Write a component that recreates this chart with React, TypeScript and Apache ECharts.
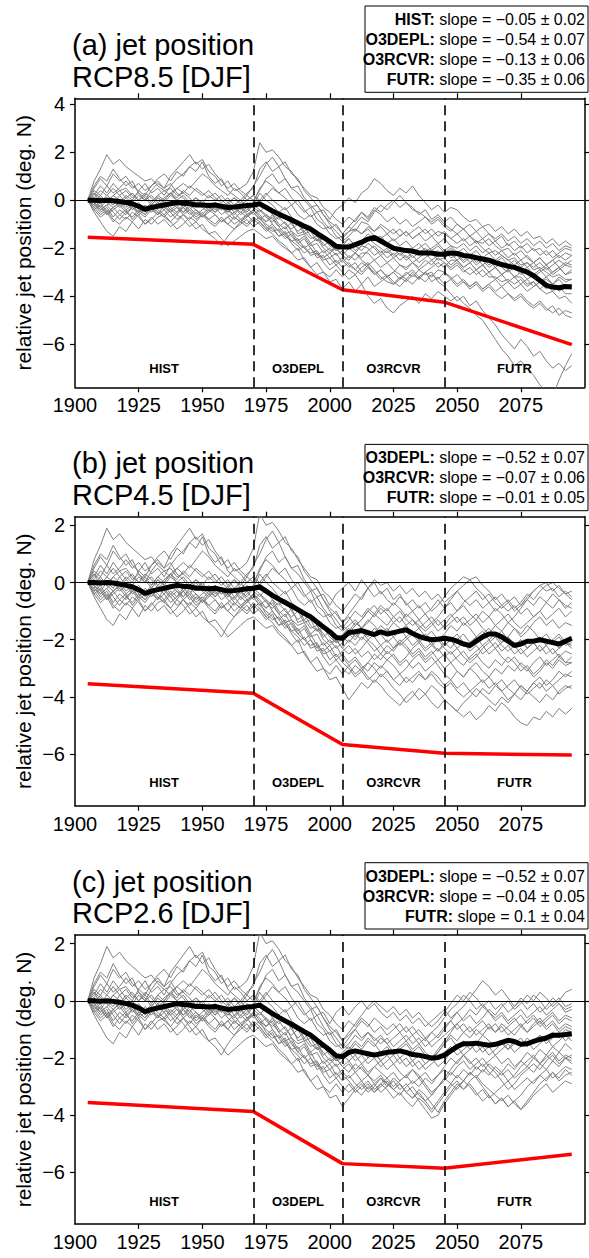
import { useEffect, useRef } from "react";
import * as echarts from "echarts";

const FONT = '"Liberation Sans", Arial, Helvetica, sans-serif';

// Ensemble members are sampled every 2.5 years starting in 1905.
const FIRST_YEAR = 1905;
const YEAR_STEP = 2.5;

// Historical part (1905-2005), shared by all scenarios: 41 values per member.
const histMembers: number[][] = [
  [0, 0.8, 1.3, 1.9, 1.5, 1.7, 1.4, 1.2, 1.0, 0.8, 0.9, 0.6, 0.4, 0.5, 0.2, 0.3, 0.1, -0.2, 0.0, -0.3, -0.1, -0.4, -0.2, -0.5, -0.3, -0.6, -0.4, -0.7, -0.9, -0.6, -1.0, -1.2, -0.9, -1.4, -1.3, -1.6, -1.5, -1.9, -1.7, -2.0, -1.9],
  [0, 0.3, -0.1, 0.2, 0.5, 0.2, 0.4, 0.1, 0.3, 0.0, 0.4, 0.7, 0.5, 1.0, 1.3, 1.6, 1.9, 1.5, 1.7, 1.2, 1.0, 0.6, 0.8, 0.4, 0.5, 0.7, 1.2, 2.4, 2.0, 2.1, 1.8, 1.4, 1.2, 0.8, 0.5, 0.2, 0.1, -0.3, -0.5, -0.8, -1.0],
  [0, 0.5, 0.9, 0.6, 1.1, 0.8, 1.0, 0.6, 0.4, 0.7, 0.3, 0.5, 0.2, 0.6, 0.9, 1.1, 1.4, 1.2, 1.6, 1.0, 0.7, 0.9, 0.4, 0.2, 0.0, 0.3, 0.5, 1.3, 1.6, 1.2, 1.4, 0.9, 0.5, 0.6, 0.1, -0.2, -0.5, -0.4, -0.8, -0.4, -0.2],
  [0, -0.5, -0.9, -1.3, -1.5, -1.1, -1.3, -0.9, -1.2, -0.8, -1.0, -0.7, -0.6, -0.9, -0.6, -0.8, -1.1, -0.9, -1.2, -1.4, -1.3, -1.6, -1.9, -1.7, -1.5, -1.3, -1.2, -1.4, -1.6, -1.5, -1.8, -2.0, -2.2, -2.5, -2.4, -2.8, -3.1, -3.0, -3.4, -3.3, -3.7],
  [0, -0.3, -0.1, -0.5, -0.3, -0.6, -0.4, -0.8, -0.5, -0.7, -0.4, -0.6, -0.2, -0.5, -0.3, -0.6, -0.4, -0.7, -0.5, -0.8, -0.6, -0.9, -0.7, -1.0, -0.8, -0.6, -0.9, -0.7, -1.1, -1.3, -1.2, -1.5, -1.7, -1.6, -2.0, -2.2, -2.1, -2.5, -2.4, -2.7, -2.5],
  [0, 0.2, 0.6, 0.3, 0.7, 0.4, 0.5, 0.2, 0.0, 0.3, 0.1, -0.2, 0.0, 0.3, 0.1, 0.4, 0.2, 0.5, 0.3, 0.1, 0.3, 0.0, -0.2, 0.1, -0.1, 0.2, 0.0, 0.4, 0.9, 1.1, 0.7, 0.9, 0.5, 0.3, 0.0, -0.3, -0.2, -0.6, -0.9, -1.1, -1.4],
  [0, -0.2, -0.5, -0.3, -0.7, -0.4, -0.6, -0.3, -0.5, -0.2, -0.4, -0.1, -0.3, -0.5, -0.8, -0.6, -0.9, -1.2, -1.0, -1.4, -1.6, -1.9, -1.5, -1.2, -0.9, -1.1, -0.8, -1.0, -1.3, -1.1, -1.5, -1.4, -1.8, -2.1, -1.9, -2.3, -2.2, -2.6, -2.9, -2.7, -3.0],
  [0, 0.1, -0.3, 0.0, -0.2, 0.2, -0.1, -0.4, -0.2, -0.5, -0.2, 0.1, -0.1, 0.2, 0.0, -0.3, -0.1, 0.1, -0.2, -0.4, -0.1, -0.3, -0.5, -0.2, -0.4, -0.1, -0.3, -0.5, -0.2, -0.6, -0.8, -0.6, -1.0, -1.3, -1.1, -1.5, -1.7, -1.6, -1.9, -2.1, -1.8],
  [0, -0.4, -0.2, -0.6, -0.3, -0.1, 0.2, 0.0, 0.4, 0.2, 0.6, 0.8, 0.5, 0.7, 0.3, 0.1, -0.2, 0.0, -0.3, -0.1, -0.4, -0.2, -0.5, -0.3, -0.6, -0.4, -0.2, 0.3, 0.0, -0.2, -0.5, -0.3, -0.7, -0.9, -1.3, -1.1, -1.5, -1.8, -2.1, -2.0, -2.3],
  [0, 0.6, 1.0, 0.8, 1.3, 0.9, 0.6, 0.8, 0.3, 0.1, -0.2, 0.1, -0.1, -0.4, -0.2, -0.5, -0.3, -0.6, -0.4, -0.2, -0.5, -0.3, -0.6, -0.8, -0.5, -0.7, -0.4, -0.6, -0.9, -0.7, -1.1, -1.4, -1.3, -1.7, -1.5, -1.9, -1.8, -2.2, -2.0, -2.3, -2.1],
  [0, -0.3, -0.6, -0.4, -0.8, -1.0, -0.7, -0.9, -0.6, -1.0, -0.7, -1.0, -0.8, -1.1, -0.9, -0.6, -0.8, -0.5, -0.7, -0.4, -0.6, -0.9, -0.7, -0.5, -0.8, -1.0, -0.7, -0.9, -1.2, -1.4, -1.7, -1.9, -2.2, -2.0, -2.5, -2.8, -2.6, -3.0, -3.2, -2.9, -3.2],
  [0, 0.1, 0.4, 0.2, 0.0, -0.2, 0.1, 0.3, 0.0, 0.2, -0.1, 0.2, 0.4, 0.2, 0.5, 0.7, 0.5, 0.8, 1.1, 0.9, 0.6, 0.4, 0.2, 0.5, 0.3, 0.0, 0.2, -0.1, 0.2, 0.5, 0.3, 0.1, -0.2, 0.0, -0.4, -0.7, -0.5, -0.9, -1.2, -1.0, -1.4],
  [0, -0.2, 0.1, -0.1, 0.2, 0.0, -0.3, -0.1, -0.4, -0.6, -0.3, -0.5, -0.7, -0.4, -0.6, -0.3, -0.5, -0.8, -0.6, -0.9, -1.1, -0.8, -1.0, -0.7, -0.9, -0.6, -0.5, -0.8, -0.6, -1.0, -1.3, -1.1, -1.5, -1.8, -1.6, -2.0, -2.3, -2.1, -2.4, -2.2, -2.6],
  [0, -0.1, -0.4, -0.2, -0.5, -0.8, -0.5, -0.3, -0.6, -0.4, -0.1, 0.2, 0.0, 0.3, 0.5, 0.3, 0.6, 0.4, 0.2, 0.4, 0.1, -0.1, 0.1, -0.2, 0.0, -0.3, -0.1, 0.5, 0.8, 0.6, 0.3, 0.5, 0.1, -0.2, -0.5, -0.3, -0.8, -1.0, -1.4, -1.6, -1.5],
  [0, -0.1, 0.2, -0.1, -0.3, -0.1, -0.4, -0.2, -0.5, -0.3, -0.5, -0.2, -0.4, -0.1, -0.3, -0.5, -0.2, -0.4, -0.6, -0.3, -0.5, -0.2, -0.4, -0.6, -0.3, -0.5, -0.2, -0.4, -0.7, -0.9, -0.7, -1.0, -1.2, -1.0, -1.4, -1.3, -1.7, -1.5, -1.8, -2.1, -2.0],
  [0, 0.4, 0.2, 0.6, 0.3, 0.5, 0.8, 0.5, 0.7, 0.4, 0.6, 0.9, 1.1, 0.8, 1.2, 1.0, 1.4, 1.6, 1.3, 1.5, 1.1, 0.8, 0.5, 0.7, 0.4, 0.2, 0.6, 1.0, 1.5, 1.8, 1.4, 1.6, 1.1, 0.9, 0.4, 0.1, -0.2, -0.6, -1.0, -1.3, -1.6],
  [0, -0.2, -0.4, -0.2, 0.0, -0.3, -0.1, -0.3, -0.1, -0.4, -0.2, -0.4, -0.6, -0.3, -0.5, -0.2, -0.4, -0.1, -0.3, -0.5, -0.2, -0.4, -0.1, -0.3, -0.5, -0.3, -0.6, -0.4, -0.6, -0.8, -1.1, -0.9, -1.3, -1.5, -1.4, -1.8, -1.6, -2.0, -2.2, -2.0, -2.3],
  [0, -0.4, -0.7, -0.5, -0.9, -0.6, -0.8, -0.5, -0.7, -1.0, -0.8, -0.5, -0.7, -0.9, -1.2, -1.0, -0.7, -0.9, -0.6, -0.8, -1.0, -0.7, -1.0, -1.2, -1.0, -0.8, -1.1, -0.9, -1.2, -1.0, -1.3, -1.6, -1.4, -1.8, -2.0, -1.8, -2.2, -2.4, -2.2, -2.6, -2.4],
  [0, 0.3, 0.1, -0.1, 0.2, 0.4, 0.1, -0.1, 0.2, 0.0, 0.2, -0.1, 0.1, 0.3, 0.0, 0.2, -0.1, 0.1, -0.1, 0.2, 0.0, 0.2, -0.1, 0.1, -0.2, 0.0, 0.2, 0.0, 0.3, 0.0, -0.2, -0.4, -0.2, -0.6, -0.8, -0.6, -1.0, -1.2, -1.1, -1.5, -1.7],
  [0, -0.1, -0.3, -0.6, -0.4, -0.2, -0.5, -0.7, -0.4, -0.6, -0.3, -0.6, -0.4, -0.7, -0.5, -0.3, -0.6, -0.4, -0.7, -0.5, -0.3, -0.6, -0.4, -0.7, -0.9, -0.7, -0.5, -0.8, -1.0, -1.2, -1.5, -1.3, -1.7, -1.9, -2.2, -2.0, -2.4, -2.3, -2.7, -2.5, -2.8],
];

// Ensemble mean, 1905-2005.
const histMean = [
  0, 0.0, -0.02, 0.0, -0.02, -0.05, -0.1, -0.15, -0.25, -0.38,
  -0.3, -0.25, -0.2, -0.15, -0.1, -0.13, -0.15, -0.2, -0.2, -0.22,
  -0.2, -0.25, -0.3, -0.28, -0.25, -0.22, -0.2, -0.15, -0.3, -0.45,
  -0.58, -0.7, -0.82, -0.95, -1.08, -1.2, -1.38, -1.55, -1.72, -1.92, -1.95,
];

// Scenario parts (2007.5-2095): 36 values per member.
const rcp85Members: number[][] = [
  [-1.6, -1.9, -2.1, -1.8, -2.0, -2.3, -2.1, -2.4, -2.2, -2.5, -2.3, -2.6, -2.4, -2.2, -2.5, -2.4, -2.7, -2.5, -2.8, -2.6, -2.9, -2.7, -3.0, -2.8, -3.1, -2.9, -3.2, -3.0, -3.3, -3.1, -3.4, -3.2, -3.5, -3.3, -3.6, -3.5],
  [-0.7, -0.9, -0.5, -0.8, -0.4, -0.6, -0.9, -0.7, -1.0, -0.8, -1.1, -0.9, -0.7, -1.0, -0.8, -1.1, -1.3, -1.0, -1.2, -1.5, -1.3, -1.6, -1.4, -1.7, -1.5, -1.9, -1.7, -2.0, -1.8, -2.1, -2.0, -2.3, -2.1, -2.4, -2.2, -2.3],
  [0.1, -0.1, 0.3, 0.5, 0.9, 0.7, 0.4, 0.2, 0.5, 0.3, 0.6, 0.2, -0.1, -0.4, -0.2, -0.5, -0.3, -0.4, -0.7, -0.9, -0.8, -1.1, -1.0, -1.3, -1.1, -1.4, -1.2, -1.5, -1.3, -1.6, -1.5, -1.8, -1.6, -1.9, -1.7, -1.9],
  [-3.4, -3.8, -3.5, -4.0, -4.3, -4.1, -4.5, -4.7, -4.4, -4.2, -4.0, -4.3, -3.9, -4.1, -3.8, -4.0, -4.2, -4.0, -4.3, -4.5, -4.8, -5.0, -5.4, -5.8, -6.2, -6.5, -6.9, -6.7, -7.0, -7.3, -7.7, -8.0, -8.2, -7.5, -6.9, -6.4],
  [-2.8, -2.6, -3.0, -2.7, -3.1, -2.9, -3.2, -3.0, -3.3, -3.1, -2.9, -3.2, -3.0, -3.4, -3.2, -3.5, -3.3, -3.6, -3.4, -3.7, -3.5, -3.8, -3.6, -3.9, -4.1, -3.9, -4.2, -4.0, -4.3, -4.5, -4.3, -4.6, -4.4, -4.8, -4.6, -4.7],
  [-1.1, -1.3, -0.9, -1.0, -1.3, -1.1, -1.4, -1.2, -1.5, -1.3, -1.6, -1.4, -1.7, -1.5, -1.8, -1.6, -1.9, -2.0, -1.8, -2.1, -1.9, -2.2, -2.0, -2.3, -2.1, -2.4, -2.2, -2.5, -2.3, -2.6, -2.4, -2.7, -2.5, -2.8, -2.6, -2.7],
  [-3.3, -3.1, -3.5, -3.2, -3.6, -3.4, -3.2, -3.5, -3.3, -3.0, -3.2, -2.9, -3.1, -3.0, -3.4, -3.6, -3.9, -4.2, -4.0, -4.4, -4.2, -4.6, -4.9, -5.2, -5.6, -5.9, -6.2, -5.8, -6.1, -6.5, -6.3, -6.7, -7.0, -6.8, -7.1, -6.9],
  [-1.6, -1.9, -1.7, -1.4, -1.6, -1.5, -1.8, -1.6, -1.9, -1.7, -2.0, -1.8, -2.1, -2.0, -1.8, -2.1, -1.9, -2.2, -2.0, -2.3, -2.1, -2.4, -2.2, -2.5, -2.3, -2.5, -2.7, -2.5, -2.8, -2.6, -2.9, -2.7, -3.0, -2.8, -3.1, -3.0],
  [-2.0, -2.2, -1.9, -2.0, -2.3, -2.1, -2.4, -2.2, -2.5, -2.3, -2.6, -2.4, -2.2, -2.5, -2.3, -2.1, -2.4, -2.3, -2.6, -2.4, -2.7, -2.5, -2.8, -2.6, -2.4, -2.7, -2.5, -2.8, -2.6, -2.8, -2.6, -2.9, -2.7, -2.5, -2.7, -2.5],
  [-2.4, -2.2, -2.5, -2.7, -2.5, -2.8, -2.6, -2.9, -3.1, -3.3, -3.0, -3.3, -3.0, -2.8, -2.6, -2.8, -2.5, -2.5, -2.8, -2.6, -2.9, -2.7, -3.0, -2.8, -3.1, -2.9, -3.2, -3.2, -3.5, -3.4, -3.7, -3.9, -3.8, -4.1, -4.0, -4.3],
  [-2.9, -3.1, -2.8, -2.6, -2.9, -3.2, -3.4, -3.5, -3.2, -3.4, -3.1, -3.3, -3.0, -3.2, -2.9, -3.0, -3.3, -3.1, -3.4, -3.6, -3.4, -3.7, -3.5, -3.8, -3.6, -3.9, -4.1, -3.9, -4.2, -4.4, -4.2, -4.5, -4.7, -4.5, -4.8, -4.9],
  [-1.1, -0.8, -0.5, -0.7, -0.3, -0.5, -0.2, 0.0, -0.3, -0.1, -0.4, -0.5, -0.7, -0.9, -0.7, -1.0, -1.2, -1.4, -1.2, -1.5, -1.7, -1.8, -1.6, -1.9, -2.1, -2.0, -2.3, -2.1, -2.4, -2.6, -2.4, -2.7, -2.5, -2.3, -2.5, -2.3],
  [-2.3, -2.5, -2.2, -2.2, -2.5, -2.3, -2.6, -2.4, -2.7, -2.8, -2.6, -2.9, -2.7, -2.5, -2.8, -2.6, -2.9, -2.7, -3.0, -2.8, -3.1, -2.9, -3.2, -3.2, -3.4, -3.3, -3.5, -3.3, -3.6, -3.4, -3.7, -3.5, -3.8, -3.6, -3.9, -3.9],
  [-1.3, -1.2, -1.4, -1.2, -1.5, -1.6, -1.4, -1.7, -1.5, -1.3, -1.6, -1.4, -1.2, -1.5, -1.3, -1.4, -1.6, -1.8, -1.6, -1.9, -1.7, -2.0, -2.2, -2.1, -2.3, -2.5, -2.4, -2.7, -2.6, -2.9, -2.8, -3.0, -3.2, -3.1, -3.3, -3.3],
  [-1.8, -2.1, -1.9, -1.6, -1.8, -2.0, -2.2, -2.0, -2.3, -2.1, -2.4, -2.2, -2.0, -2.3, -2.1, -2.4, -2.2, -2.5, -2.3, -2.6, -2.4, -2.7, -2.5, -2.8, -2.6, -2.9, -2.7, -3.0, -2.8, -3.1, -2.9, -3.2, -3.0, -2.8, -3.1, -2.9],
  [-1.3, -1.0, -0.7, -0.9, -0.5, -0.2, -0.4, -0.1, 0.2, -0.1, -0.3, -0.6, -0.4, -0.8, -0.6, -0.9, -0.7, -1.0, -1.2, -1.0, -1.3, -1.1, -1.4, -1.6, -1.4, -1.7, -1.5, -1.8, -1.6, -1.9, -1.7, -2.0, -1.8, -2.1, -1.9, -2.0],
  [-2.5, -2.2, -2.4, -2.1, -1.9, -2.2, -2.0, -2.3, -2.1, -2.4, -2.2, -2.0, -1.8, -2.1, -1.9, -2.2, -2.0, -2.3, -2.5, -2.3, -2.6, -2.4, -2.7, -2.5, -2.8, -3.0, -2.8, -3.1, -2.9, -3.2, -3.0, -2.8, -3.1, -2.9, -2.7, -2.8],
  [-2.7, -2.9, -2.6, -2.8, -3.1, -2.9, -3.2, -3.0, -2.7, -2.9, -2.6, -2.8, -2.5, -2.7, -2.4, -2.6, -2.8, -2.6, -2.9, -3.1, -2.9, -3.2, -3.0, -3.3, -3.1, -3.4, -3.2, -3.5, -3.3, -3.6, -3.4, -3.3, -3.5, -3.2, -3.4, -3.3],
  [-1.5, -1.2, -1.4, -1.1, -1.3, -1.0, -1.2, -1.4, -1.2, -1.5, -1.3, -1.1, -1.4, -1.2, -1.5, -1.3, -1.6, -1.4, -1.7, -1.5, -1.8, -1.6, -1.9, -1.7, -2.0, -1.8, -2.1, -1.9, -2.2, -2.0, -2.3, -2.1, -2.4, -2.2, -2.0, -2.1],
  [-2.6, -2.9, -3.1, -2.8, -3.0, -3.3, -3.1, -3.4, -3.6, -3.3, -3.5, -3.2, -3.4, -3.1, -3.3, -3.0, -3.2, -3.5, -3.3, -3.6, -3.4, -3.7, -3.5, -3.3, -3.6, -3.4, -3.7, -3.5, -3.8, -3.6, -3.4, -3.7, -3.5, -3.8, -3.6, -3.7],
];
const rcp85Mean = [
  -1.95, -1.85, -1.75, -1.62, -1.55, -1.7, -1.85, -2.0, -2.05, -2.1,
  -2.12, -2.2, -2.2, -2.2, -2.25, -2.25, -2.2, -2.22, -2.3, -2.33,
  -2.4, -2.45, -2.5, -2.6, -2.68, -2.75, -2.8, -2.9, -3.0, -3.15,
  -3.35, -3.55, -3.62, -3.65, -3.6, -3.62,
];

const rcp45Members: number[][] = [
  [-2.1, -1.8, -2.0, -1.7, -1.9, -2.2, -2.0, -2.3, -2.1, -1.9, -2.2, -2.0, -2.3, -2.1, -2.4, -2.2, -2.0, -2.3, -2.1, -2.4, -2.2, -2.5, -2.3, -2.1, -2.4, -2.2, -2.5, -2.3, -2.6, -2.4, -2.2, -2.5, -2.3, -2.6, -2.4, -2.5],
  [-0.7, -0.4, -0.6, -0.2, -0.5, -0.3, -0.6, -0.8, -0.5, -0.7, -1.0, -0.8, -1.1, -0.9, -0.6, -0.9, -0.7, -1.0, -0.8, -1.1, -1.3, -1.0, -1.2, -0.9, -1.1, -1.4, -1.2, -0.9, -0.6, -0.8, -0.5, -0.7, -0.4, -0.6, -0.9, -0.7],
  [0.0, -0.3, 0.1, -0.2, 0.0, -0.4, -0.2, -0.6, -0.4, -0.8, -0.6, -0.9, -0.7, -1.0, -0.8, -0.5, -0.2, 0.0, 0.2, 0.1, 0.2, -0.1, -0.3, -0.6, -0.4, -0.7, -0.5, -0.8, -0.6, -0.3, -0.1, 0.0, -0.3, -0.1, -0.4, -0.6],
  [-4.1, -3.8, -3.5, -3.7, -3.4, -3.6, -3.9, -4.1, -4.3, -4.0, -3.8, -4.1, -3.9, -4.2, -4.4, -4.1, -4.3, -4.5, -4.7, -4.5, -4.8, -4.6, -4.3, -4.5, -4.2, -4.4, -4.7, -4.9, -5.0, -4.7, -4.8, -4.5, -4.7, -4.4, -4.6, -4.4],
  [-2.8, -2.6, -2.9, -3.1, -2.8, -3.0, -2.7, -2.9, -3.2, -3.0, -2.7, -2.5, -2.8, -2.6, -2.9, -3.2, -3.4, -3.1, -3.3, -3.0, -2.8, -3.1, -3.3, -3.6, -3.4, -3.7, -3.9, -3.6, -3.8, -3.5, -3.7, -3.4, -3.6, -3.9, -3.7, -3.6],
  [-1.2, -1.5, -1.3, -1.0, -1.2, -0.9, -1.1, -1.4, -1.2, -1.5, -1.3, -1.6, -1.4, -1.2, -1.5, -1.3, -1.1, -1.4, -1.2, -1.5, -1.3, -1.6, -1.8, -1.5, -1.7, -1.4, -1.6, -1.9, -1.7, -1.4, -1.2, -1.5, -1.3, -1.6, -1.4, -1.5],
  [-3.2, -2.9, -3.1, -2.8, -3.0, -3.3, -3.1, -3.4, -3.6, -3.3, -3.5, -3.2, -3.4, -3.1, -3.3, -3.6, -3.4, -3.7, -3.5, -3.8, -4.0, -3.7, -3.9, -3.6, -3.8, -4.1, -3.9, -3.6, -3.8, -3.5, -3.3, -3.6, -3.4, -3.1, -3.3, -3.1],
  [-1.6, -1.9, -1.7, -2.0, -1.8, -1.5, -1.7, -1.4, -1.6, -1.9, -1.7, -2.0, -1.8, -2.1, -1.9, -2.2, -2.0, -1.8, -2.1, -2.3, -2.1, -1.8, -1.6, -1.9, -1.7, -2.0, -2.2, -2.0, -2.3, -2.1, -1.9, -2.2, -2.0, -1.8, -2.1, -1.9],
  [-2.0, -2.2, -1.9, -2.1, -2.4, -2.2, -2.5, -2.3, -2.0, -2.2, -2.5, -2.3, -2.6, -2.4, -2.7, -2.5, -2.8, -2.6, -2.4, -2.7, -2.5, -2.8, -3.0, -2.7, -2.9, -2.6, -2.8, -3.1, -2.9, -3.2, -3.0, -2.7, -2.9, -2.6, -2.8, -2.8],
  [-1.8, -1.5, -1.3, -1.0, -0.8, -1.1, -0.9, -1.2, -1.0, -1.3, -1.5, -1.3, -1.6, -1.4, -1.7, -1.5, -1.2, -1.0, -0.7, -0.5, -0.3, -0.6, -0.4, -0.7, -0.9, -0.7, -1.0, -0.8, -0.5, -0.3, -0.1, -0.3, -0.2, -0.5, -0.3, -0.5],
  [-2.9, -2.7, -3.0, -2.8, -2.5, -2.7, -2.4, -2.6, -2.9, -2.7, -3.0, -2.8, -3.1, -2.9, -2.7, -3.0, -2.8, -3.1, -3.3, -3.0, -3.2, -3.5, -3.3, -3.0, -3.2, -2.9, -3.1, -2.8, -3.0, -3.3, -3.1, -2.8, -3.0, -2.7, -2.9, -2.8],
  [-1.1, -0.8, -0.5, -0.2, 0.1, -0.1, 0.0, -0.3, -0.1, -0.4, -0.2, -0.5, -0.3, -0.6, -0.4, -0.7, -0.5, -0.3, -0.6, -0.8, -0.6, -0.9, -0.7, -1.0, -0.8, -0.6, -0.9, -0.7, -0.4, -0.6, -0.3, -0.1, 0.0, -0.2, -0.4, -0.3],
  [-2.9, -3.2, -3.0, -3.3, -3.5, -3.2, -3.4, -3.7, -3.9, -4.2, -4.0, -3.7, -3.9, -3.6, -3.8, -4.1, -4.3, -4.5, -4.2, -4.0, -3.7, -3.9, -4.1, -4.3, -4.0, -4.2, -3.9, -4.1, -3.8, -4.0, -4.2, -3.9, -4.1, -3.8, -3.6, -3.7],
  [-1.7, -1.4, -1.6, -1.3, -1.5, -1.8, -1.6, -1.9, -1.7, -1.5, -1.8, -1.6, -1.9, -1.7, -2.0, -1.8, -1.5, -1.7, -1.4, -1.6, -1.9, -1.7, -2.0, -1.8, -2.1, -1.9, -1.6, -1.8, -1.5, -1.7, -2.0, -1.8, -2.1, -1.9, -2.2, -2.1],
  [-1.8, -2.0, -1.7, -1.9, -1.6, -1.8, -2.1, -1.9, -2.2, -2.0, -1.8, -2.1, -1.9, -2.2, -2.4, -2.1, -2.3, -2.0, -1.8, -2.1, -1.9, -2.2, -2.0, -2.3, -2.1, -1.9, -2.2, -2.0, -2.3, -2.1, -2.4, -2.2, -2.0, -2.3, -2.1, -2.2],
  [-1.3, -1.0, -1.2, -0.9, -1.1, -0.8, -1.0, -0.7, -0.9, -1.2, -1.0, -1.3, -1.1, -1.4, -1.2, -0.9, -0.6, -0.3, -0.1, 0.1, -0.2, -0.4, -0.7, -0.5, -0.8, -1.0, -0.8, -1.1, -0.9, -1.2, -1.0, -0.7, -0.9, -0.6, -0.8, -0.9],
  [-2.5, -2.3, -2.6, -2.4, -2.7, -2.5, -2.2, -2.4, -2.1, -2.3, -2.6, -2.4, -2.7, -2.5, -2.3, -2.6, -2.4, -2.7, -2.9, -2.6, -2.4, -2.2, -2.5, -2.3, -2.6, -2.8, -2.6, -2.9, -3.1, -2.8, -2.6, -2.9, -2.7, -2.5, -2.8, -2.6],
  [-2.2, -2.5, -2.3, -2.0, -2.2, -2.5, -2.7, -2.5, -2.8, -2.6, -2.3, -2.1, -2.4, -2.2, -2.0, -2.3, -2.5, -2.3, -2.6, -2.8, -2.6, -2.3, -2.1, -1.9, -2.2, -2.4, -2.2, -2.5, -2.3, -2.1, -2.4, -2.2, -2.5, -2.3, -2.1, -2.3],
  [-1.5, -1.3, -1.6, -1.4, -1.1, -1.3, -1.5, -1.2, -1.4, -1.1, -1.3, -1.5, -1.7, -1.5, -1.3, -1.6, -1.4, -1.2, -1.5, -1.3, -1.1, -1.4, -1.2, -1.5, -1.3, -1.1, -1.4, -1.6, -1.4, -1.2, -1.0, -1.3, -1.1, -0.9, -1.2, -1.0],
  [-3.0, -3.3, -3.1, -3.4, -3.2, -2.9, -3.1, -3.4, -3.2, -3.5, -3.3, -3.1, -3.4, -3.2, -3.5, -3.7, -3.5, -3.8, -4.0, -3.8, -3.6, -3.4, -3.7, -3.5, -3.8, -3.6, -3.4, -3.7, -3.9, -3.7, -3.5, -3.8, -3.6, -3.4, -3.2, -3.3],
];
const rcp45Mean = [
  -1.75, -1.72, -1.68, -1.75, -1.82, -1.72, -1.8, -1.75, -1.7, -1.65,
  -1.78, -1.88, -1.95, -2.0, -1.98, -1.95, -1.98, -2.05, -2.15, -2.2,
  -2.05, -1.9, -1.8, -1.8, -1.9, -2.05, -2.2, -2.15, -2.05, -2.05,
  -2.0, -2.05, -2.1, -2.15, -2.05, -1.95,
];

const rcp26Members: number[][] = [
  [-2.1, -1.9, -2.2, -2.0, -1.8, -2.1, -1.9, -2.2, -2.0, -2.3, -2.1, -2.4, -2.2, -2.0, -2.3, -2.1, -1.8, -1.6, -1.9, -1.7, -1.5, -1.8, -1.6, -1.9, -1.7, -1.5, -1.8, -1.6, -1.4, -1.7, -1.5, -1.3, -1.6, -1.4, -1.2, -1.4],
  [-0.7, -0.9, -0.6, -0.8, -1.1, -0.9, -1.2, -1.0, -0.8, -1.1, -0.9, -1.2, -1.4, -1.1, -1.3, -1.0, -0.7, -0.4, -0.2, 0.1, 0.4, 0.7, 0.5, 0.2, 0.4, 0.1, -0.2, 0.0, -0.3, -0.1, -0.4, -0.2, 0.1, -0.1, -0.3, -0.2],
  [-0.5, -0.2, 0.0, -0.3, -0.1, -0.4, -0.6, -0.4, -0.7, -0.5, -0.8, -0.6, -0.9, -0.7, -0.5, -0.3, -0.6, -0.4, -0.7, -0.5, -0.8, -0.6, -0.3, -0.5, -0.2, 0.0, -0.3, -0.1, 0.2, 0.0, 0.3, 0.1, -0.2, 0.0, 0.3, 0.4],
  [-3.4, -3.1, -3.3, -3.0, -3.2, -2.9, -3.1, -3.4, -3.2, -3.5, -3.7, -3.4, -3.6, -3.9, -3.6, -3.3, -3.0, -2.8, -3.1, -2.9, -3.2, -3.5, -3.3, -3.6, -3.4, -3.7, -3.5, -3.8, -3.6, -3.3, -3.1, -2.9, -3.2, -3.0, -2.8, -2.9],
  [-2.7, -2.5, -2.8, -2.6, -2.9, -2.7, -3.0, -2.8, -3.1, -2.9, -3.2, -3.5, -3.8, -4.1, -4.0, -3.6, -3.3, -3.0, -2.8, -2.5, -2.7, -2.4, -2.6, -2.3, -2.5, -2.2, -2.4, -2.1, -2.3, -2.0, -2.2, -1.9, -2.1, -1.8, -2.0, -1.9],
  [-1.2, -1.0, -1.3, -1.1, -1.4, -1.2, -1.5, -1.3, -1.1, -1.4, -1.2, -1.5, -1.3, -1.6, -1.4, -1.2, -1.0, -0.8, -1.1, -0.9, -1.2, -1.0, -0.8, -1.1, -0.9, -1.2, -1.0, -0.8, -1.1, -0.9, -0.7, -1.0, -0.8, -1.1, -0.9, -1.0],
  [-3.2, -3.0, -2.8, -3.1, -2.9, -3.2, -3.0, -2.7, -2.9, -3.2, -3.4, -3.1, -3.3, -3.6, -3.9, -3.5, -3.2, -2.9, -3.1, -2.8, -2.6, -2.9, -3.1, -3.3, -3.5, -3.3, -3.6, -3.8, -3.5, -3.2, -2.9, -2.7, -2.5, -2.8, -2.6, -2.5],
  [-1.6, -1.9, -1.7, -2.0, -1.8, -2.1, -1.9, -1.7, -2.0, -1.8, -2.1, -1.9, -2.2, -2.0, -1.8, -1.5, -1.3, -1.6, -1.4, -1.7, -1.5, -1.2, -1.4, -1.6, -1.4, -1.7, -1.5, -1.3, -1.6, -1.4, -1.2, -1.5, -1.3, -1.1, -1.4, -1.2],
  [-2.1, -2.4, -2.2, -2.5, -2.3, -2.1, -2.4, -2.2, -2.5, -2.7, -2.4, -2.6, -2.9, -3.2, -3.0, -2.7, -2.4, -2.1, -1.9, -2.2, -2.0, -2.3, -2.1, -1.9, -2.2, -2.0, -2.3, -2.1, -1.8, -2.0, -1.7, -1.9, -1.6, -1.8, -1.5, -1.7],
  [-1.8, -1.5, -1.7, -1.4, -1.6, -1.3, -1.5, -1.8, -1.6, -1.4, -1.7, -1.5, -1.8, -2.0, -1.7, -1.4, -1.1, -0.8, -0.6, -0.3, -0.5, -0.2, -0.4, -0.7, -0.5, -0.8, -0.6, -0.9, -0.7, -0.5, -0.8, -0.6, -0.4, -0.7, -0.5, -0.6],
  [-2.9, -3.2, -3.0, -2.8, -3.1, -2.9, -2.7, -3.0, -2.8, -2.6, -2.9, -2.7, -3.0, -3.3, -3.0, -2.7, -2.9, -2.6, -2.8, -2.5, -2.7, -3.0, -3.3, -3.6, -3.4, -3.7, -3.5, -3.3, -3.0, -2.8, -2.6, -2.4, -2.7, -2.5, -2.3, -2.4],
  [-1.1, -0.8, -0.5, -0.2, 0.0, -0.2, -0.4, -0.2, -0.5, -0.3, -0.6, -0.4, -0.7, -0.9, -0.7, -0.4, -0.1, 0.2, 0.0, 0.3, 0.1, -0.2, 0.0, -0.3, -0.1, -0.4, -0.2, 0.1, -0.1, 0.2, 0.0, -0.3, -0.1, 0.1, -0.2, -0.1],
  [-2.8, -3.1, -2.9, -3.2, -3.0, -2.7, -2.9, -3.1, -3.3, -3.0, -2.8, -3.0, -2.7, -2.9, -2.6, -2.4, -2.6, -2.3, -2.1, -2.4, -2.2, -2.0, -2.3, -2.5, -2.8, -3.1, -2.9, -2.6, -2.4, -2.2, -2.4, -2.1, -1.9, -2.2, -2.0, -2.1],
  [-1.7, -1.4, -1.6, -1.3, -1.5, -1.8, -1.6, -1.9, -1.7, -1.5, -1.8, -1.6, -1.9, -2.1, -1.8, -1.5, -1.2, -1.4, -1.1, -1.3, -1.0, -1.2, -0.9, -1.1, -0.8, -1.0, -1.2, -0.9, -1.1, -0.8, -0.6, -0.9, -0.7, -1.0, -0.8, -0.9],
  [-1.8, -2.1, -1.9, -2.2, -2.0, -2.3, -2.1, -1.9, -2.2, -2.0, -2.3, -2.1, -2.4, -2.2, -2.0, -1.8, -1.6, -1.9, -1.7, -1.5, -1.8, -1.6, -1.9, -1.7, -1.5, -1.7, -1.4, -1.6, -1.3, -1.5, -1.2, -1.4, -1.1, -1.3, -1.0, -1.1],
  [-1.3, -1.0, -0.7, -0.9, -0.6, -0.8, -1.0, -0.8, -1.1, -0.9, -1.2, -1.0, -1.3, -1.1, -0.9, -0.6, -0.3, -0.1, 0.2, 0.0, -0.3, -0.1, -0.4, -0.6, -0.4, -0.7, -0.5, -0.3, -0.6, -0.4, -0.2, -0.5, -0.3, -0.1, -0.4, -0.3],
  [-2.5, -2.2, -2.4, -2.6, -2.3, -2.5, -2.7, -2.5, -2.8, -2.6, -2.4, -2.7, -2.5, -2.8, -2.6, -2.3, -2.0, -2.2, -1.9, -2.1, -2.4, -2.2, -2.5, -2.7, -2.5, -2.8, -2.6, -2.3, -2.1, -1.9, -2.2, -2.0, -1.8, -2.1, -1.9, -2.0],
  [-2.2, -2.5, -2.3, -2.6, -2.8, -2.6, -2.9, -3.1, -2.9, -3.2, -3.0, -3.3, -3.5, -3.3, -3.0, -2.8, -2.5, -2.7, -2.4, -2.6, -2.3, -2.5, -2.2, -2.4, -2.6, -2.4, -2.7, -2.5, -2.3, -2.5, -2.2, -2.4, -2.1, -2.3, -2.0, -2.2],
  [-1.5, -1.2, -1.4, -1.1, -1.3, -1.5, -1.3, -1.6, -1.4, -1.2, -1.5, -1.3, -1.6, -1.4, -1.2, -0.9, -0.7, -1.0, -0.8, -1.1, -0.9, -0.7, -1.0, -0.8, -1.1, -0.9, -0.7, -0.5, -0.8, -0.6, -0.9, -0.7, -0.5, -0.8, -0.6, -0.7],
  [-2.6, -2.9, -3.1, -2.9, -3.2, -3.0, -2.8, -3.1, -2.9, -3.2, -3.4, -3.2, -3.5, -3.8, -3.5, -3.2, -2.9, -3.1, -2.8, -3.0, -3.3, -3.1, -3.4, -3.2, -3.0, -2.8, -3.1, -2.9, -2.7, -2.9, -2.6, -2.8, -2.5, -2.7, -2.4, -2.6],
];
const rcp26Mean = [
  -1.8, -1.75, -1.8, -1.85, -1.9, -1.85, -1.8, -1.78, -1.75, -1.8,
  -1.88, -1.9, -1.95, -2.0, -1.98, -1.9, -1.75, -1.6, -1.5, -1.5,
  -1.48, -1.52, -1.55, -1.52, -1.45, -1.38, -1.42, -1.52, -1.5, -1.42,
  -1.35, -1.3, -1.2, -1.2, -1.18, -1.15,
];

// Piecewise trend lines (red), one value per period boundary.
const trendYears = [1905, 1970, 2005, 2045, 2095];
const rcp85Trend = [-1.54, -1.84, -3.73, -4.25, -6.02];
const rcp45Trend = [-3.54, -3.87, -5.66, -5.97, -6.03];
const rcp26Trend = [-3.55, -3.87, -5.69, -5.85, -5.36];

// Periods, their edges on the time axis and the fitted slopes per scenario.
const periodNames = ["HIST", "O3DEPL", "O3RCVR", "FUTR"];
const periodEdges = [1900, 1970, 2005, 2045, 2100];
const periodDividers = [1970, 2005, 2045];
const PERIOD_LABEL_LEVEL = -7;

const rcp85SlopeNames = ["HIST", "O3DEPL", "O3RCVR", "FUTR"];
const rcp85Slopes = [-0.05, -0.54, -0.13, -0.35];
const rcp85SlopeErrs = [0.02, 0.07, 0.06, 0.06];
const rcp45SlopeNames = ["O3DEPL", "O3RCVR", "FUTR"];
const rcp45Slopes = [-0.52, -0.07, -0.01];
const rcp45SlopeErrs = [0.07, 0.06, 0.05];
const rcp26SlopeNames = ["O3DEPL", "O3RCVR", "FUTR"];
const rcp26Slopes = [-0.52, -0.04, 0.1];
const rcp26SlopeErrs = [0.07, 0.05, 0.04];

// Axis ticks and labels.
const xTickYears = [1925, 1950, 1975, 2000, 2025, 2050, 2075];
const xLabelYears = [1900, 1925, 1950, 1975, 2000, 2025, 2050, 2075];
const yTicksWide = [-6, -4, -2, 0, 2, 4];
const yTicksNarrow = [-6, -4, -2, 0, 2];

const MINUS = "\u2212";
const fmtSigned = (v: number) => (v < 0 ? MINUS + String(Math.abs(v)) : String(v));

type Panel = {
  letter: string;
  scenario: string;
  top: number;
  yMin: number;
  yMax: number;
  yTicks: number[];
  members: number[][];
  mean: number[];
  trend: number[];
  slopeNames: string[];
  slopes: number[];
  slopeErrs: number[];
};

const panels: Panel[] = [
  { letter: "a", scenario: "RCP8.5", top: 98.3, yMin: -7.8, yMax: 4.25, yTicks: yTicksWide, members: rcp85Members, mean: rcp85Mean, trend: rcp85Trend, slopeNames: rcp85SlopeNames, slopes: rcp85Slopes, slopeErrs: rcp85SlopeErrs },
  { letter: "b", scenario: "RCP4.5", top: 516.7, yMin: -7.8, yMax: 2.3, yTicks: yTicksNarrow, members: rcp45Members, mean: rcp45Mean, trend: rcp45Trend, slopeNames: rcp45SlopeNames, slopes: rcp45Slopes, slopeErrs: rcp45SlopeErrs },
  { letter: "c", scenario: "RCP2.6", top: 935, yMin: -7.8, yMax: 2.3, yTicks: yTicksNarrow, members: rcp26Members, mean: rcp26Mean, trend: rcp26Trend, slopeNames: rcp26SlopeNames, slopes: rcp26Slopes, slopeErrs: rcp26SlopeErrs },
];

const PLOT_LEFT = 75;
const PLOT_WIDTH = 509.5;
const PLOT_HEIGHT = 289;

const toPairs = (vals: number[]) => vals.map((v, i) => [FIRST_YEAR + i * YEAR_STEP, v]);

function buildOption() {
  const grid: any[] = [];
  const xAxis: any[] = [];
  const yAxis: any[] = [];
  const series: any[] = [];
  const graphic: any[] = [];

  const axisLine = { show: true, onZero: false, lineStyle: { color: "#000", width: 1.5 } };
  const tickStyle = { color: "#000", width: 1.2 };

  panels.forEach((p, i) => {
    grid.push({ left: PLOT_LEFT, width: PLOT_WIDTH, top: p.top, height: PLOT_HEIGHT, containLabel: false });

    xAxis.push({
      gridIndex: i, type: "value", min: 1900, max: 2100, position: "bottom",
      axisLine, splitLine: { show: false },
      axisTick: { show: true, length: 5, customValues: xTickYears, lineStyle: tickStyle },
      axisLabel: {
        show: true, customValues: xLabelYears, margin: 8, fontSize: 20, color: "#000", fontFamily: FONT,
        formatter: (v: number) => String(v),
      },
    });
    xAxis.push({
      gridIndex: i, type: "value", min: 1900, max: 2100, position: "top",
      axisLine, splitLine: { show: false },
      axisTick: { show: true, length: 5, customValues: xTickYears, lineStyle: tickStyle },
      axisLabel: { show: false },
    });
    yAxis.push({
      gridIndex: i, type: "value", min: p.yMin, max: p.yMax, position: "left",
      axisLine, splitLine: { show: false },
      axisTick: { show: true, length: 5, customValues: p.yTicks, lineStyle: tickStyle },
      axisLabel: {
        show: true, customValues: p.yTicks, margin: 10, fontSize: 20, color: "#000", fontFamily: FONT,
        formatter: (v: number) => fmtSigned(v),
      },
    });
    yAxis.push({
      gridIndex: i, type: "value", min: p.yMin, max: p.yMax, position: "right",
      axisLine, splitLine: { show: false },
      axisTick: { show: true, length: 5, customValues: p.yTicks, lineStyle: tickStyle },
      axisLabel: { show: false },
    });

    const xi = 2 * i;
    const yi = 2 * i;

    // individual ensemble members
    p.members.forEach((m, k) => {
      series.push({
        type: "line", xAxisIndex: xi, yAxisIndex: yi, silent: true, z: 1,
        showSymbol: false, symbol: "none", clip: true,
        lineStyle: { color: "#808080", width: 1 },
        data: toPairs(histMembers[k].concat(m)),
      });
    });

    // piecewise trend with period dividers and the zero line
    series.push({
      type: "line", xAxisIndex: xi, yAxisIndex: yi, silent: true, z: 3,
      showSymbol: false, symbol: "none", clip: true,
      lineStyle: { color: "#ff0000", width: 3.5 },
      data: trendYears.map((yr, j) => [yr, p.trend[j]]),
      markLine: {
        silent: true, symbol: ["none", "none"], label: { show: false },
        data: [
          ...periodDividers.map((yr) => ({ xAxis: yr, lineStyle: { color: "#000", width: 1.6, type: [10, 6] } })),
          { yAxis: 0, lineStyle: { color: "#000", width: 1, type: "solid" } },
        ],
      },
    });

    // ensemble mean
    series.push({
      type: "line", xAxisIndex: xi, yAxisIndex: yi, silent: true, z: 4,
      showSymbol: false, symbol: "none", clip: true,
      lineStyle: { color: "#000", width: 5 },
      data: toPairs(histMean.concat(p.mean)),
    });

    // period names
    series.push({
      type: "scatter", xAxisIndex: xi, yAxisIndex: yi, silent: true, z: 5,
      symbol: "circle", symbolSize: 0, itemStyle: { color: "#000", opacity: 1 },
      label: {
        show: true, position: "inside", formatter: "{b}", color: "#000", opacity: 1,
        textBorderWidth: 0, fontSize: 13, fontWeight: "bold", fontFamily: FONT,
      },
      emphasis: { disabled: true },
      data: periodNames.map((n, j) => ({
        name: n,
        value: [(periodEdges[j] + periodEdges[j + 1]) / 2, PERIOD_LABEL_LEVEL],
      })),
    });

    // panel title
    graphic.push({
      type: "text", x: 72, y: p.top - 53.3,
      style: { text: `(${p.letter}) jet position`, fontSize: 29, fontFamily: FONT, fill: "#000", align: "left", verticalAlign: "middle" },
    });
    graphic.push({
      type: "text", x: 72, y: p.top - 21.6,
      style: { text: `${p.scenario} [DJF]`, fontSize: 29, fontFamily: FONT, fill: "#000", align: "left", verticalAlign: "middle" },
    });

    // slope box
    const boxBottom = p.top - 6;
    const rows = p.slopeNames.length;
    const lastRow = boxBottom - 13;
    const firstRow = lastRow - (rows - 1) * 20;
    const boxTop = firstRow - 13.3;
    graphic.push({
      type: "rect", z: 10,
      shape: { x: 365, y: boxTop, width: 223, height: boxBottom - boxTop },
      style: { fill: "#fff", stroke: "#000", lineWidth: 1 },
    });
    p.slopeNames.forEach((n, j) => {
      graphic.push({
        type: "text", z: 11, x: 585, y: firstRow + j * 20,
        style: {
          text: `{b|${n}:} slope = ${fmtSigned(p.slopes[j])} \u00b1 ${p.slopeErrs[j]}`,
          rich: { b: { fontWeight: "bold", fontSize: 16, fontFamily: FONT, fill: "#000" } },
          fontSize: 16, fontFamily: FONT, fill: "#000", align: "right", verticalAlign: "middle",
        },
      });
    });

    // y-axis title
    graphic.push({
      type: "text", x: 23, y: p.top + PLOT_HEIGHT / 2, rotation: Math.PI / 2,
      style: { text: "relative jet position (deg. N)", fontSize: 21, fontFamily: FONT, fill: "#000", align: "center", verticalAlign: "middle" },
    });
  });

  return { animation: false, backgroundColor: "#fff", grid, xAxis, yAxis, series, graphic };
}

export default function App() {
  const ref = useRef<HTMLDivElement>(null);
  useEffect(() => {
    const chart = echarts.init(ref.current!, undefined, { renderer: "svg" });
    chart.setOption(buildOption() as any);
    return () => chart.dispose();
  }, []);
  return (
    <div
      ref={ref}
      style={{ position: "absolute", left: 0, top: 0, width: 589, height: 1258, background: "#fff" }}
    />
  );
}
